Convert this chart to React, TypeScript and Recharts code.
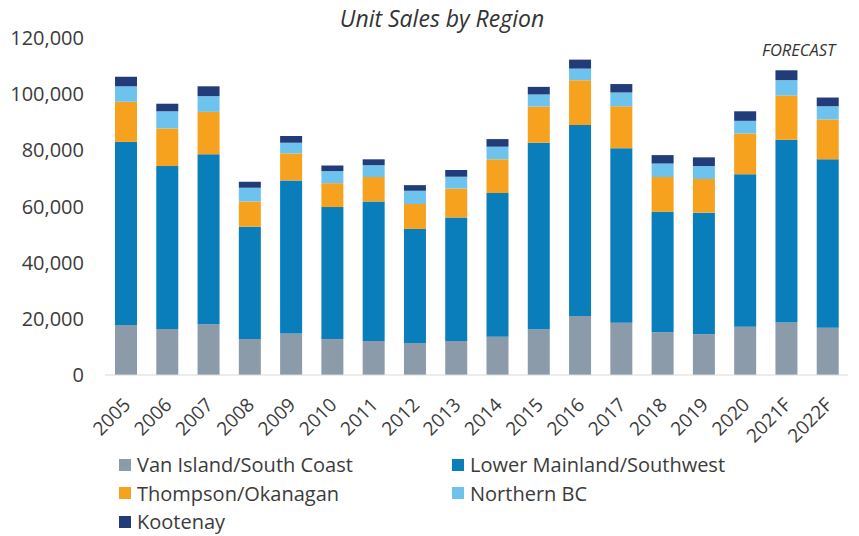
import React from 'react';
import { BarChart, Bar, XAxis, YAxis } from 'recharts';

// Unit sales by BC region
const years = ['2005', '2006', '2007', '2008', '2009', '2010', '2011', '2012', '2013',
  '2014', '2015', '2016', '2017', '2018', '2019', '2020', '2021F', '2022F'];

const vanIsland = [17800, 16400, 18100, 12800, 14800, 12800, 12100, 11400, 12100,
  13600, 16300, 21000, 18600, 15200, 14500, 17200, 18700, 16800];
const lowerMainland = [65200, 58000, 60500, 40000, 54500, 47000, 49700, 40600, 44000,
  51200, 66400, 68000, 62100, 42900, 43300, 54300, 65100, 60000];
const thompson = [14300, 13400, 15100, 9000, 9600, 8500, 8700, 8900, 10300,
  12000, 12900, 16000, 15000, 12400, 12000, 14500, 15700, 14200];
const northernBC = [5500, 6100, 5600, 4900, 3800, 4300, 4200, 4700, 4200,
  4500, 4300, 4100, 4900, 4800, 4600, 4500, 5500, 4700];
const kootenay = [3400, 2700, 3500, 2100, 2400, 2000, 2100, 2000, 2400,
  2700, 2700, 3200, 3000, 3000, 3100, 3400, 3500, 3100];

const yTicks = [0, 20000, 40000, 60000, 80000, 100000, 120000];

const series = [
  { key: 'vanIsland', name: 'Van Island/South Coast', color: '#8b9ba9' },
  { key: 'lowerMainland', name: 'Lower Mainland/Southwest', color: '#0a7dbb' },
  { key: 'thompson', name: 'Thompson/Okanagan', color: '#f6a21e' },
  { key: 'northernBC', name: 'Northern BC', color: '#6dc3ee' },
  { key: 'kootenay', name: 'Kootenay', color: '#213c79' },
];

const data = years.map((year, i) => ({
  year,
  vanIsland: vanIsland[i],
  lowerMainland: lowerMainland[i],
  thompson: thompson[i],
  northernBC: northernBC[i],
  kootenay: kootenay[i],
}));

const FONT = '"Open Sans", sans-serif';
const TEXT = '#3b3b3b';

const YearTick = (props: any) => {
  const { x, y, payload } = props;
  return (
    <g transform={`translate(${x + 6},${y + 23})`}>
      <text textAnchor="end" transform="rotate(-45)" fontSize={19} fill={TEXT} fontFamily={FONT}>
        {payload.value}
      </text>
    </g>
  );
};

export default function App() {
  return (
    <div style={{ position: 'absolute', left: 0, top: 0, width: 859, height: 536, background: '#fff', fontFamily: FONT }}>
      <div style={{ position: 'absolute', left: 0, width: 884, top: 2, textAlign: 'center', fontSize: 23, fontStyle: 'italic', color: '#333' }}>
        Unit Sales by Region
      </div>
      <div style={{ position: 'absolute', left: 762, top: 38, fontSize: 16.5, fontStyle: 'italic', color: '#333' }}>
        FORECAST
      </div>

      <BarChart width={859} height={536} data={data} margin={{ top: 38, right: 11, left: 0, bottom: 101 }}>
        <XAxis
          dataKey="year"
          interval={0}
          height={60}
          tickLine={false}
          axisLine={{ stroke: '#d9d9d9' }}
          tick={<YearTick />}
        />
        <YAxis
          width={105}
          domain={[0, 120000]}
          ticks={yTicks}
          axisLine={false}
          tickLine={false}
          tickSize={0}
          tickMargin={21}
          tick={{ fontSize: 20, fill: TEXT, fontFamily: FONT }}
          tickFormatter={(v: number) => v.toLocaleString('en-US')}
        />
        {series.map((s) => (
          <Bar key={s.key} dataKey={s.key} name={s.name} stackId="a" fill={s.color} barSize={22} isAnimationActive={false} />
        ))}
      </BarChart>

      {/* legend, two columns like the original */}
      <div style={{ position: 'absolute', left: 119, top: 452, width: 720, display: 'grid', gridTemplateColumns: '333px 380px', rowGap: 3, fontSize: 20, color: TEXT }}>
        {series.map((s) => (
          <div key={s.key} style={{ display: 'flex', alignItems: 'center', height: 25.5 }}>
            <span style={{ width: 12, height: 12, background: s.color, marginRight: 6, display: 'inline-block' }} />
            {s.name}
          </div>
        ))}
      </div>
    </div>
  );
}
